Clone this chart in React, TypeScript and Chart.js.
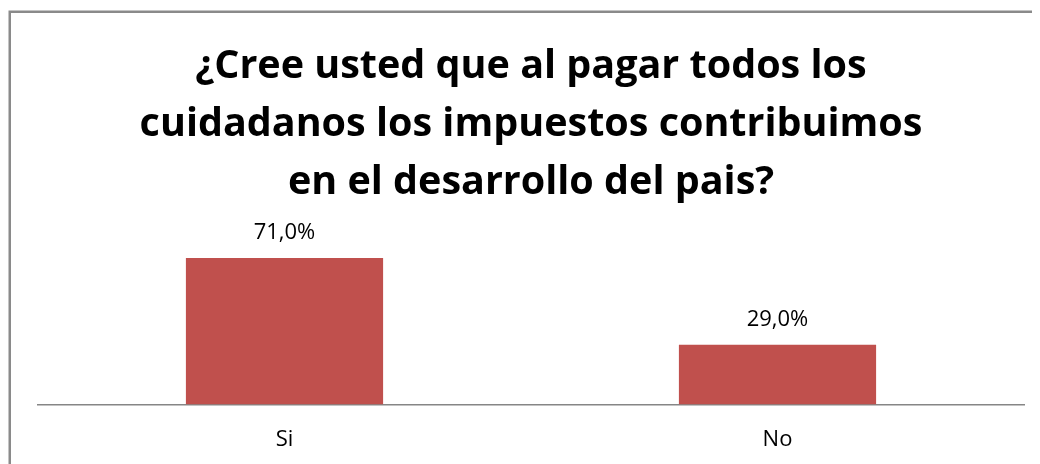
import React, { useEffect, useRef } from "react";
import { Chart, registerables } from "chart.js";

Chart.register(...registerables);

const categories: string[] = ["Si", "No"];
const values: number[] = [71.0, 29.0];
const titleLines: string[] = [
  "¿Cree usted que al pagar todos los",
  "cuidadanos los impuestos contribuimos",
  "en el desarrollo del pais?",
];

const FONT = "'Open Sans', 'Noto Sans', sans-serif";

const frameAndLabelsPlugin = {
  id: "frameAndLabels",
  beforeDraw(chart: any) {
    const ctx = chart.ctx;
    ctx.save();
    ctx.strokeStyle = "#8a8a8a";
    ctx.lineWidth = 2.5;
    ctx.beginPath();
    ctx.moveTo(9.75, chart.height);
    ctx.lineTo(9.75, 11.75);
    ctx.lineTo(chart.width, 11.75);
    ctx.stroke();
    ctx.restore();
  },
  afterDatasetsDraw(chart: any) {
    const ctx = chart.ctx;
    const meta = chart.getDatasetMeta(0);
    ctx.save();
    ctx.font = `22px ${FONT}`;
    ctx.fillStyle = "#000000";
    ctx.textAlign = "center";
    ctx.textBaseline = "alphabetic";
    meta.data.forEach((bar: any, i: number) => {
      const v = values[i];
      const txt = v.toFixed(1).replace(".", ",") + "%";
      ctx.fillText(txt, bar.x, bar.y - 19);
    });
    ctx.restore();
  },
};

export default function App() {
  const ref = useRef<HTMLCanvasElement | null>(null);
  useEffect(() => {
    if (!ref.current) return;
    const chart = new Chart(ref.current, {
      type: "bar",
      data: {
        labels: categories,
        datasets: [
          {
            data: values,
            backgroundColor: "#C0504D",
            borderWidth: 0,
            categoryPercentage: 1,
            barPercentage: 0.4,
          },
        ],
      },
      options: {
        animation: false,
        responsive: false,
        maintainAspectRatio: false,
        layout: { padding: { left: 38, right: 16, top: 0, bottom: -11 } },
        plugins: {
          legend: { display: false },
          tooltip: { enabled: false },
          title: {
            display: true,
            text: titleLines,
            color: "#000000",
            font: { family: FONT, size: 39.5, weight: "bold", lineHeight: 1.468 },
            padding: { top: 38, bottom: 10 },
          },
        },
        scales: {
          x: {
            grid: { display: false, drawTicks: false },
            border: { display: true, color: "#868686", width: 1.5 },
            ticks: {
              color: "#000000",
              font: { family: FONT, size: 22 },
              padding: 22,
            },
          },
          y: {
            display: false,
            min: 0,
            max: 88.5,
          },
        },
      },
      plugins: [frameAndLabelsPlugin],
    });
    return () => chart.destroy();
  }, []);
  return (
    <div style={{ position: "relative", width: 1040, height: 464, marginLeft: -8, marginTop: -8 }}>
      <canvas
        ref={ref}
        width={1040}
        height={464}
        style={{ position: "absolute", left: 0, top: 0, width: 1040, height: 464 }}
      />
    </div>
  );
}
